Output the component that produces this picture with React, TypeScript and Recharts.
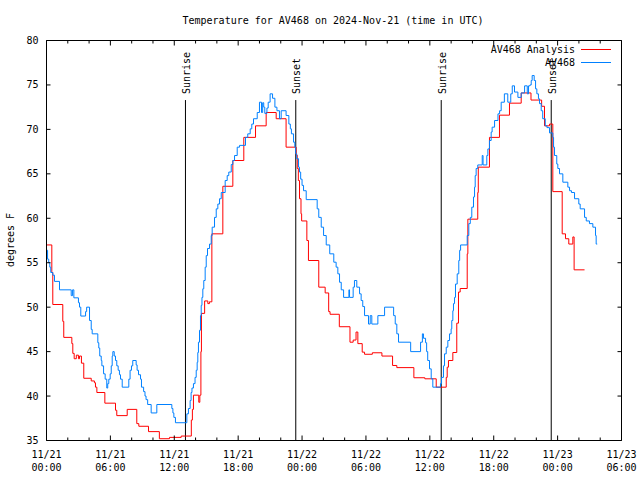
import React from 'react';
import { LineChart, Line, XAxis, YAxis, ReferenceLine } from 'recharts';

const FONT = '"DejaVu Sans Mono", monospace';

const chartTitle = 'Temperature for AV468 on 2024-Nov-21 (time in UTC)';
const yAxisTitle = 'degrees F';
const seriesNames = ['AV468 Analysis', 'AV468'];
const seriesColors = ['#ff0000', '#0080ff'];
const startMonth = 11;
const startDay = 21;

// hours since 2024-11-21 00:00 UTC
const hourTicks = [0, 2, 4, 6, 8, 10, 12, 14, 16, 18, 20, 22, 24, 26, 28, 30, 32, 34, 36, 38, 40, 42, 44, 46, 48, 50, 52, 54];
const labeledHours = [0, 6, 12, 18, 24, 30, 36, 42, 48, 54];
const tempTicks = [35, 40, 45, 50, 55, 60, 65, 70, 75, 80];

const sunEventNames = ['Sunrise', 'Sunset', 'Sunrise', 'Sunset'];
const sunEventHours = [13.05, 23.41, 37.07, 47.4];
const sunLineTop = 73.3;

// [hour, temperature F]
const analysisReadings: [number, number][] = [
  [0, 57.0], [0.5, 53.9], [0.59, 50.3], [1.53, 48.4], [1.62, 46.6], [2.38, 45.9], [2.47, 44.8],
  [2.6, 44.2], [2.8, 44.6], [3.0, 44.2], [3.1, 44.5], [3.28, 43.7], [3.5, 42.0], [4.2, 41.7],
  [4.5, 41.5], [4.6, 41.0], [4.73, 40.4], [5.48, 39.2], [6.48, 38.4], [6.6, 37.8], [7.58, 38.5],
  [8.48, 36.9], [8.67, 36.6], [9.58, 36.0], [10.6, 35.2], [11.55, 35.35], [12.65, 35.5],
  [13.6, 37.3], [13.7, 38.5], [13.8, 40.1], [14.3, 39.3], [14.4, 40.1], [14.5, 45.0], [14.55, 49.3],
  [14.85, 50.7], [15.15, 50.4], [15.3, 50.6], [15.53, 58.25], [16.56, 63.6], [17.5, 66.5],
  [18.53, 69.1], [19.63, 70.4], [20.63, 71.9], [21.57, 71.2], [22.5, 68.0], [23.45, 67.1],
  [23.55, 65.6], [23.65, 64.25], [23.76, 62.2], [23.9, 60.5], [23.96, 59.7], [24.45, 57.5],
  [24.6, 55.25], [25.57, 52.25], [26.17, 51.6], [26.5, 49.5], [26.63, 49.2], [27.5, 47.8],
  [28.5, 46.06], [28.8, 46.3], [29.07, 47.2], [29.24, 45.9], [29.65, 44.94], [29.87, 44.7],
  [30.6, 44.87], [31.5, 44.5], [32.5, 43.44], [32.9, 43.2], [34.5, 42.06], [35.53, 41.94],
  [36.6, 41.0], [37.54, 42.1], [37.63, 43.25], [37.75, 44.0], [38.16, 44.9], [38.53, 48.2],
  [38.69, 51.7], [38.85, 52.1], [39.51, 56.0], [39.57, 59.9], [40.5, 62.9], [40.55, 65.75],
  [41.6, 69.1], [42.54, 71.6], [43.48, 72.95], [44.58, 74.1], [45.5, 73.3], [46.5, 72.6],
  [46.77, 70.4], [47.24, 70.6], [47.55, 63.0], [48.43, 58.25], [48.74, 57.7], [49.05, 57.1],
  [49.43, 57.9], [49.55, 54.2], [50.53, 54.2],
];

const stationReadings: [number, number][] = [
  [0, 56.4], [0.1, 55.4], [0.21, 55.0], [0.31, 54.5], [0.4, 53.9], [0.59, 53.6], [0.75, 52.9],
  [1.22, 51.95], [2.32, 51.3], [2.45, 51.95], [2.57, 51.05], [3.0, 50.5], [3.1, 50.0], [3.22, 49.0],
  [3.67, 49.5], [3.77, 50.0], [4.04, 48.5], [4.2, 47.5], [4.29, 47.0], [4.82, 46.0], [4.91, 45.4],
  [5.0, 44.5], [5.14, 44.0], [5.2, 43.4], [5.36, 42.5], [5.51, 41.9], [5.66, 40.9], [5.75, 41.4],
  [5.85, 41.9], [5.98, 42.5], [6.08, 43.4], [6.17, 44.5], [6.23, 45.0], [6.36, 44.5], [6.48, 44.0],
  [6.6, 43.4], [6.73, 42.9], [6.85, 42.4], [6.95, 41.9], [7.11, 41.0], [7.73, 41.9], [7.85, 42.9],
  [7.98, 43.4], [8.1, 44.0], [8.42, 43.5], [8.51, 42.9], [8.64, 42.4], [8.83, 41.9], [8.92, 41.0],
  [9.12, 40.5], [9.25, 40.0], [9.35, 39.6], [9.5, 39.05], [9.83, 38.1], [10.36, 39.05],
  [11.77, 38.6], [11.87, 38.1], [11.96, 37.6], [12.11, 37.0], [13.18, 38.0], [13.33, 38.6],
  [13.49, 39.5], [13.58, 40.4], [13.66, 40.9], [13.8, 41.4], [13.95, 42.1], [14.06, 42.9],
  [14.15, 43.8], [14.21, 44.9], [14.27, 46.06], [14.37, 47.4], [14.46, 49.05], [14.53, 50.2],
  [14.6, 51.1], [14.68, 52.07], [14.77, 53.0], [14.9, 54.5], [15.0, 55.8], [15.12, 56.6],
  [15.31, 57.1], [15.47, 58.06], [15.56, 59.0], [15.78, 60.1], [15.94, 61.06], [16.09, 61.6],
  [16.25, 62.2], [16.41, 62.9], [16.78, 64.25], [16.97, 64.8], [17.12, 65.2], [17.35, 66.05],
  [17.5, 66.5], [17.66, 67.06], [17.91, 68.0], [18.13, 68.2], [18.69, 69.1], [18.9, 69.5],
  [19.13, 70.06], [19.28, 70.6], [19.44, 71.2], [19.79, 71.9], [20.0, 73.06], [20.19, 71.9],
  [20.3, 73.0], [20.4, 72.5], [20.5, 71.8], [20.7, 72.4], [20.82, 73.06], [21.0, 74.0],
  [21.23, 73.5], [21.45, 72.5], [21.64, 72.1], [21.88, 71.2], [22.04, 72.1], [22.5, 71.56],
  [22.76, 70.6], [22.9, 70.06], [23.0, 69.5], [23.2, 68.56], [23.32, 68.0], [23.4, 67.25],
  [23.5, 66.7], [23.67, 65.75], [23.76, 65.2], [23.87, 64.4], [24.0, 63.7], [24.14, 63.1],
  [24.39, 62.1], [25.42, 61.06], [25.57, 60.1], [25.8, 59.0], [26.02, 58.06], [26.27, 57.0],
  [26.6, 56.0], [26.98, 55.06], [27.2, 54.5], [27.36, 53.75], [27.52, 52.8], [27.68, 51.95],
  [27.9, 51.1], [28.4, 51.95], [28.46, 51.1], [28.8, 52.25], [28.92, 53.0], [29.14, 52.25],
  [29.4, 51.5], [29.55, 50.75], [29.7, 50.07], [29.87, 49.05], [30.24, 48.1], [30.4, 49.05],
  [30.55, 48.1], [31.12, 49.05], [31.75, 50.0], [32.6, 49.05], [32.75, 48.1], [32.9, 47.0],
  [33.06, 46.06], [34.2, 45.0], [35.13, 46.06], [35.3, 47.0], [35.4, 46.5], [35.6, 46.0],
  [35.7, 45.0], [35.8, 44.0], [35.97, 43.06], [36.13, 41.94], [36.28, 41.0], [37.0, 41.4],
  [37.1, 42.1], [37.28, 43.4], [37.38, 44.75], [37.54, 45.5], [37.69, 46.25], [37.85, 47.0],
  [38.0, 47.56], [38.06, 48.5], [38.16, 49.6], [38.22, 50.4], [38.32, 51.1], [38.41, 52.6],
  [38.57, 53.75], [38.72, 55.25], [38.8, 56.4], [38.89, 57.0], [39.51, 58.06], [39.66, 59.4],
  [39.8, 60.1], [39.94, 61.25], [40.1, 62.4], [40.2, 63.5], [40.26, 64.8], [40.35, 65.6],
  [40.5, 66.0], [40.92, 67.06], [41.0, 66.0], [41.35, 67.06], [41.45, 67.8], [41.6, 68.75],
  [41.76, 69.7], [41.85, 70.25], [42.08, 71.0], [42.4, 71.75], [42.55, 72.1], [42.7, 73.06],
  [43.0, 74.0], [43.32, 73.06], [43.6, 74.0], [43.74, 74.9], [43.95, 74.2], [44.27, 73.6],
  [44.58, 74.1], [44.9, 74.9], [45.15, 74.0], [45.27, 74.9], [45.4, 75.0], [45.52, 75.5],
  [45.61, 76.06], [45.8, 75.5], [45.93, 74.56], [46.05, 74.0], [46.2, 73.44], [46.3, 72.9],
  [46.46, 72.1], [46.6, 71.2], [46.84, 70.4], [47.0, 70.2], [47.24, 69.6], [47.55, 69.1],
  [47.62, 68.0], [47.71, 67.06], [47.92, 66.1], [48.02, 65.6], [48.18, 65.0], [48.49, 64.06],
  [48.96, 63.5], [49.12, 63.1], [49.3, 62.9], [49.59, 62.2], [49.99, 61.6], [50.12, 61.06],
  [50.53, 60.1], [50.69, 59.7], [50.99, 59.4], [51.31, 59.0], [51.56, 58.06], [51.62, 57.1],
  [51.72, 57.1],
];

const analysisData = analysisReadings.map(([t, v]) => ({ t, v }));
const stationData = stationReadings.map(([t, v]) => ({ t, v }));

const pad = (n: number) => (n < 10 ? '0' + n : '' + n);

const BottomTick = (props: any) => {
  const { x, y, payload } = props;
  const h = payload.value;
  const major = labeledHours.includes(h);
  const day = startDay + Math.floor(h / 24);
  return (
    <g>
      <line x1={x} x2={x} y1={y} y2={y - (major ? 5 : 3)} stroke="#000" strokeWidth={1} />
      {major && (
        <text x={x} y={y + 14} textAnchor="middle" dominantBaseline="central" fontFamily={FONT} fontSize={10} fill="#000">
          {`${startMonth}/${day}`}
        </text>
      )}
      {major && (
        <text x={x} y={y + 27} textAnchor="middle" dominantBaseline="central" fontFamily={FONT} fontSize={10} fill="#000">
          {`${pad(h % 24)}:00`}
        </text>
      )}
    </g>
  );
};

const TopTick = (props: any) => {
  const { x, y, payload } = props;
  const major = labeledHours.includes(payload.value);
  return <line x1={x} x2={x} y1={y} y2={y + (major ? 5 : 3)} stroke="#000" strokeWidth={1} />;
};

const LeftTick = (props: any) => {
  const { x, y, payload } = props;
  return (
    <g>
      <line x1={x} x2={x + 4} y1={y} y2={y} stroke="#000" strokeWidth={1} />
      <text x={x - 8} y={y} textAnchor="end" dominantBaseline="central" fontFamily={FONT} fontSize={10} fill="#000">
        {payload.value}
      </text>
    </g>
  );
};

const RightTick = (props: any) => {
  const { x, y } = props;
  return <line x1={x} x2={x - 4} y1={y} y2={y} stroke="#000" strokeWidth={1} />;
};

const sunLabel = (name: string) => (props: any) => {
  const vb = props.viewBox || {};
  const x = vb.x + 1;
  const y = vb.y - 6;
  return (
    <text
      x={x}
      y={y}
      transform={`rotate(-90 ${x} ${y})`}
      textAnchor="start"
      dominantBaseline="central"
      fontFamily={FONT}
      fontSize={10}
      fill="#000"
    >
      {name}
    </text>
  );
};

const Overlay = () => (
  <>
    <svg
      width={640}
      height={480}
      style={{ position: 'absolute', left: 0, top: 0, pointerEvents: 'none' }}
    >
      <text x={333} y={20} textAnchor="middle" dominantBaseline="central" fontFamily={FONT} fontSize={10} fill="#000">
        {chartTitle}
      </text>
      <text x={10} y={240} textAnchor="middle" dominantBaseline="central" transform="rotate(-90 10 240)" fontFamily={FONT} fontSize={10} fill="#000">
        {yAxisTitle}
      </text>
      {seriesNames.map((n, i) => (
        <text key={n} x={575} y={49 + i * 13} textAnchor="end" dominantBaseline="central" fontFamily={FONT} fontSize={10} fill="#000">
          {n}
        </text>
      ))}
    </svg>
    {seriesNames.map((n, i) => (
      <div
        key={'swatch-' + n}
        style={{ position: 'absolute', left: 581, top: 49 + i * 13, width: 30, height: 1, background: seriesColors[i] }}
      />
    ))}
  </>
);

export default function App() {
  return (
    <div style={{ position: 'absolute', left: 0, top: 0, width: 640, height: 480, background: '#fff' }}>
      <LineChart width={640} height={480} margin={{ top: 30.5, right: 8.5, bottom: 19.5, left: 26.5 }}>
        <XAxis
          xAxisId="b"
          type="number"
          dataKey="t"
          domain={[0, 54]}
          ticks={hourTicks}
          allowDataOverflow
          height={20}
          tickSize={0}
          tickMargin={0}
          tickLine={false}
          axisLine={{ stroke: '#000' }}
          tick={<BottomTick />}
          interval={0}
        />
        <XAxis
          xAxisId="t"
          orientation="top"
          type="number"
          dataKey="t"
          domain={[0, 54]}
          ticks={hourTicks}
          allowDataOverflow
          height={10}
          tickSize={0}
          tickMargin={0}
          tickLine={false}
          axisLine={{ stroke: '#000' }}
          tick={<TopTick />}
          interval={0}
        />
        <YAxis
          yAxisId="l"
          type="number"
          domain={[35, 80]}
          ticks={tempTicks}
          allowDataOverflow
          width={20}
          tickSize={0}
          tickMargin={0}
          tickLine={false}
          axisLine={{ stroke: '#000' }}
          tick={<LeftTick />}
          interval={0}
        />
        <YAxis
          yAxisId="r"
          orientation="right"
          type="number"
          domain={[35, 80]}
          ticks={tempTicks}
          allowDataOverflow
          width={10}
          tickSize={0}
          tickMargin={0}
          tickLine={false}
          axisLine={{ stroke: '#000' }}
          tick={<RightTick />}
          interval={0}
        />
        {sunEventHours.map((h, i) => (
          <ReferenceLine
            key={'sun' + i}
            xAxisId="b"
            yAxisId="l"
            segment={[{ x: h, y: 35 }, { x: h, y: sunLineTop }]}
            stroke="#000"
            strokeWidth={1}
            label={sunLabel(sunEventNames[i])}
            ifOverflow="visible"
          />
        ))}
        <Line
          xAxisId="b"
          yAxisId="l"
          data={analysisData}
          dataKey="v"
          name={seriesNames[0]}
          type="stepAfter"
          stroke={seriesColors[0]}
          strokeWidth={1}
          dot={false}
          activeDot={false}
          isAnimationActive={false}
        />
        <Line
          xAxisId="b"
          yAxisId="l"
          data={stationData}
          dataKey="v"
          name={seriesNames[1]}
          type="stepAfter"
          stroke={seriesColors[1]}
          strokeWidth={1}
          dot={false}
          activeDot={false}
          isAnimationActive={false}
        />
      </LineChart>
      <Overlay />
    </div>
  );
}
